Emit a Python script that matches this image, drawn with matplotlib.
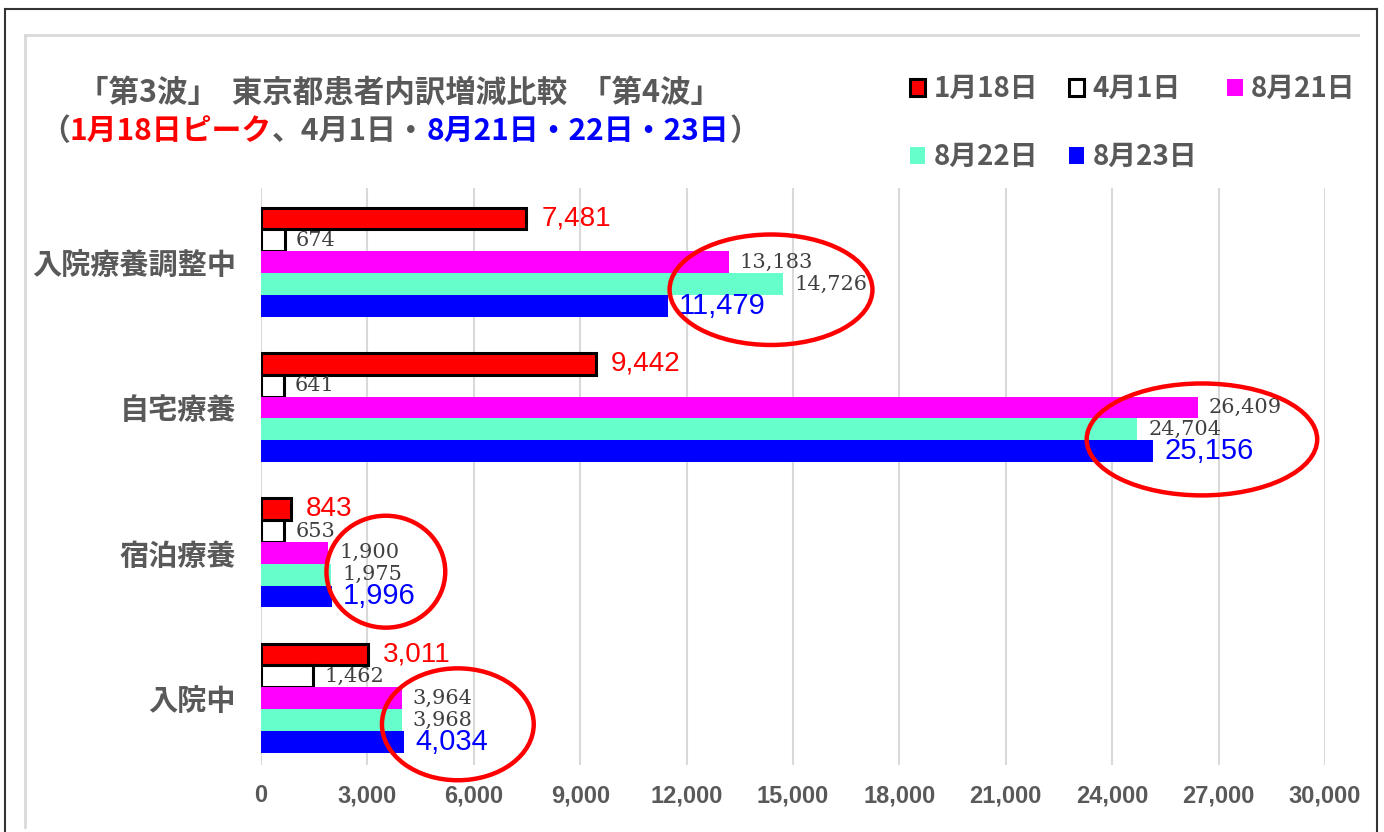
import matplotlib
matplotlib.use("Agg")
import matplotlib.pyplot as plt
from matplotlib.patches import Ellipse
from matplotlib.lines import Line2D
from matplotlib.font_manager import FontProperties

categories = ["入院療養調整中", "自宅療養", "宿泊療養", "入院中"]
series_names = ["1月18日", "4月1日", "8月21日", "8月22日", "8月23日"]
jan18 = [7481, 9442, 843, 3011]
apr1 = [674, 641, 653, 1462]
aug21 = [13183, 26409, 1900, 3964]
aug22 = [14726, 24704, 1975, 3968]
aug23 = [11479, 25156, 1996, 4034]
xticks = list(range(0, 30001, 3000))

# hand drawn red circles (center x, center category pos, width, height)
circles = [(14380, 0.19, 5720, 0.76),
           (26530, 1.22, 6500, 0.77),
           (3520, 2.13, 3350, 0.77),
           (5550, 3.18, 4280, 0.77)]

values = [jan18, apr1, aug21, aug22, aug23]
faces = ["#ff0000", "#ffffff", "#ff00ff", "#66ffcc", "#0000ff"]
edges = ["black", "black", "none", "none", "none"]
gray = "#595959"

W, H = 1384, 832
fig = plt.figure(figsize=(W / 100, H / 100), dpi=100)
ax = fig.add_axes([261 / W, 1 - 765 / H, (1325 - 261) / W, (765 - 188) / H])

cjk = "Noto Sans CJK JP"
sans = "Liberation Sans"

bh = 0.15
bars = []
for k, vals in enumerate(values):
    ys = [i + (k - 2) * bh for i in range(len(categories))]
    b = ax.barh(ys, vals, height=bh, color=faces[k], edgecolor=edges[k],
                linewidth=2.2 if edges[k] != "none" else 0, label=series_names[k], zorder=3)
    bars.append(b)
    for y, v in zip(ys, vals):
        lab = f"{v:,}"
        if k == 0:
            ax.annotate(lab, (v, y), xytext=(11, 0), textcoords="offset points",
                        va="center", ha="left", color="#ff0000", fontsize=20,
                        family=sans, zorder=5)
        elif k == 4:
            ax.annotate(lab, (v, y), xytext=(8, 0), textcoords="offset points",
                        va="center", ha="left", color="#0000ff", fontsize=21,
                        family=sans, zorder=5)
        else:
            ax.annotate(lab, (v, y), xytext=(8, 0), textcoords="offset points",
                        va="center", ha="left", color="#404040", fontsize=15,
                        family="DejaVu Serif", zorder=5)

for cx, cy, w, h in circles:
    ax.add_patch(Ellipse((cx, cy), w, h, fill=False, edgecolor="#ff0000",
                         linewidth=3.2, clip_on=False, zorder=6))

ax.set_xlim(0, 30000)
ax.set_ylim(3.46, -0.51)
ax.set_xticks(xticks)
ax.set_xticklabels([f"{t:,}" for t in xticks])
ax.set_yticks(range(len(categories)))
ax.set_yticklabels(categories)
ax.tick_params(axis="both", length=0)
ax.tick_params(axis="x", pad=14)
ax.tick_params(axis="y", pad=18)
for t in ax.get_xticklabels():
    t.set_family(sans)
    t.set_fontweight("bold")
    t.set_fontsize(17)
    t.set_color(gray)
for t in ax.get_yticklabels():
    t.set_family(cjk)
    t.set_fontweight("bold")
    t.set_fontsize(21)
    t.set_color(gray)
ax.grid(axis="x", color="#d9d9d9", linewidth=1.5, zorder=0)
for s in ax.spines.values():
    s.set_visible(False)

# title, first line
fig.text(399 / W, 1 - 93 / H, "「第3波」  東京都患者内訳増減比較  「第4波」",
         ha="center", va="center", fontsize=22, fontweight="bold",
         family=cjk, color=gray)
# second line, multi colored
parts = [("（", gray), ("1月18日ピーク", "#ff0000"), ("、4月1日・", gray),
         ("8月21日・22日・23日", "#0000ff"), ("）", gray)]
prev = fig.text(40 / W, 1 - 131 / H, parts[0][0], ha="left", va="center",
                fontsize=21.5, fontweight="bold", family=cjk, color=parts[0][1])
for txt, col in parts[1:]:
    prev = ax.annotate(txt, xy=(1, 0.5), xycoords=prev, ha="left", va="center",
                       fontsize=21.5, fontweight="bold", family=cjk, color=col,
                       annotation_clip=False)

# legend order so rows read 1/18, 4/1, 8/21 then 8/22, 8/23
order = [0, 3, 1, 4, 2]
fig.legend([bars[i] for i in order], [series_names[i] for i in order],
           loc="upper left", bbox_to_anchor=(910 / W, 1 - 75 / H), ncol=3,
           frameon=False, prop=FontProperties(family=cjk, weight="bold", size=20),
           labelcolor=gray, handlelength=0.55, handleheight=0.55,
           handletextpad=0.3, columnspacing=1.1, labelspacing=1.45,
           borderpad=0, borderaxespad=0)

# frame lines around the chart
def fline(x0, y0, x1, y1, color, lw):
    fig.add_artist(Line2D([x0 / W, x1 / W], [1 - y0 / H, 1 - y1 / H],
                          transform=fig.transFigure, color=color, linewidth=lw))

fline(5, 9, 1377, 9, "#333333", 1.5)
fline(5, 9, 5, 832, "#333333", 1.5)
fline(1377, 9, 1377, 832, "#333333", 1.5)
fline(25, 35, 1358, 35, "#d9d9d9", 2)
fline(25, 35, 25, 827, "#d9d9d9", 2)

fig.savefig("out.png", dpi=100)
